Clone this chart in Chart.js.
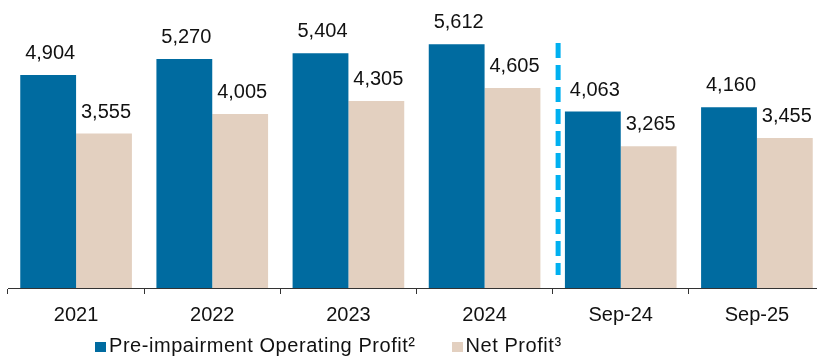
<!DOCTYPE html>
<html>
<head>
<meta charset="utf-8">
<script src="https://cdn.jsdelivr.net/npm/chart.js@4"></script>
<style>
  body { margin: 0; background: #fff; }
  #wrap { position: relative; width: 817px; height: 361px; overflow: hidden; }
  #chart { position: absolute; left: 0; top: 0; }
  #legend {
    position: absolute; left: 95px; top: 334px;
    font: 20px "Liberation Sans", Arial, sans-serif; color: #111;
    letter-spacing: 0.55px; white-space: nowrap;
  }
  #legend .item { display: inline-block; margin-right: 36px; }
  #legend .box { display: inline-block; width: 11px; height: 10px; margin-right: 3px; vertical-align: baseline; }
</style>
</head>
<body>
<div id="wrap">
  <canvas id="chart" width="840" height="361"></canvas>
  <div id="legend"></div>
</div>
<script>
// categories and series
const periods = ["2021", "2022", "2023", "2024", "Sep-24", "Sep-25"];
const operatingProfit = [4904, 5270, 5404, 5612, 4063, 4160];
const netProfit = [3555, 4005, 4305, 4605, 3265, 3455];
const seriesNames = ["Pre-impairment Operating Profit²", "Net Profit³"];
const seriesColors = ["#006ba0", "#e3d0c0"];

// full-year vs. year-to-date divider (category index, value span)
const dividerAt = 3.54;
const dividerSpan = [300, 5640];

const fmt = (v) => v.toLocaleString("en-US");

// value labels above every bar + dashed divider
const barLabels = {
  id: "barLabels",
  afterDatasetsDraw(chart) {
    const { ctx, scales } = chart;
    ctx.save();
    ctx.font = '20px "Liberation Sans", Arial, sans-serif';
    ctx.fillStyle = "#111";
    ctx.textAlign = "center";
    ctx.textBaseline = "alphabetic";
    chart.data.datasets.forEach((ds, i) => {
      chart.getDatasetMeta(i).data.forEach((bar, j) => {
        ctx.fillText(fmt(ds.data[j]), bar.x + 2, bar.y - 16);
      });
    });

    const x = scales.x.getPixelForValue(dividerAt);
    ctx.strokeStyle = "#00b0f0";
    ctx.lineWidth = 5;
    ctx.setLineDash([15, 7]);
    ctx.beginPath();
    ctx.moveTo(x, scales.y.getPixelForValue(dividerSpan[1]));
    ctx.lineTo(x, scales.y.getPixelForValue(dividerSpan[0]));
    ctx.stroke();
    ctx.restore();
  }
};

new Chart(document.getElementById("chart"), {
  type: "bar",
  data: {
    labels: periods,
    datasets: [
      { label: seriesNames[0], data: operatingProfit, backgroundColor: seriesColors[0] },
      { label: seriesNames[1], data: netProfit, backgroundColor: seriesColors[1] },
    ],
  },
  options: {
    responsive: false,
    animation: false,
    layout: { padding: { left: 8, right: 15, top: 10, bottom: 25 } },
    datasets: { bar: { barPercentage: 1, categoryPercentage: 0.82 } },
    plugins: { legend: { display: false }, tooltip: { enabled: false } },
    scales: {
      x: {
        grid: { display: true, drawOnChartArea: false, tickLength: 6, color: "#333", offset: true },
        border: { display: true, color: "#333", width: 1 },
        ticks: { padding: 9, color: "#111", font: { family: '"Liberation Sans", Arial, sans-serif', size: 20 } },
      },
      y: { display: false, min: 0, max: 6400 },
    },
  },
  plugins: [barLabels],
});

// legend
document.getElementById("legend").innerHTML = seriesNames.map((name, i) =>
  `<span class="item"><span class="box" style="background:${seriesColors[i]}"></span>${name}</span>`
).join("");
</script>
</body>
</html>
